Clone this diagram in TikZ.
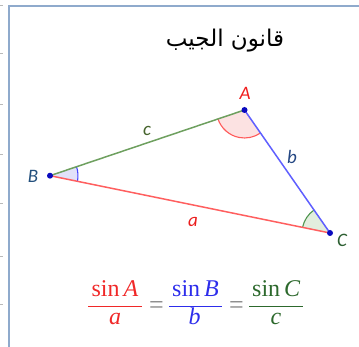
\documentclass[tikz,border=0pt]{standalone}
\usepackage{fontspec}
\setmainfont{Liberation Serif}
\newfontfamily\labfont{Carlito}
\newfontfamily\arabicfont[Script=Arabic]{DejaVu Sans}
\TeXXeTstate=1
\usetikzlibrary{angles}
\definecolor{framec}{RGB}{143,170,204}
\definecolor{sidea}{RGB}{255,95,95}
\definecolor{sideb}{RGB}{95,95,255}
\definecolor{sidec}{RGB}{110,160,95}
\definecolor{fillA}{RGB}{252,226,226}
\definecolor{fillB}{RGB}{226,226,250}
\definecolor{fillC}{RGB}{226,238,222}
\definecolor{arcA}{RGB}{255,90,90}
\definecolor{arcB}{RGB}{70,70,255}
\definecolor{arcC}{RGB}{80,150,80}
\definecolor{dotc}{RGB}{10,10,190}
\definecolor{labA}{RGB}{240,30,30}
\definecolor{labB}{RGB}{35,80,125}
\definecolor{labC}{RGB}{45,95,50}
\definecolor{laba}{RGB}{235,30,30}
\definecolor{labb}{RGB}{35,70,130}
\definecolor{labc}{RGB}{70,100,45}
\definecolor{frA}{RGB}{240,40,40}
\definecolor{frB}{RGB}{45,45,235}
\definecolor{frC}{RGB}{45,105,45}
\definecolor{eqc}{RGB}{130,130,130}
\tikzset{
  side/.style={line width=1.5pt},
  dotnode/.style={circle, fill=dotc, inner sep=0pt, minimum size=6pt},
  lbl/.style={font=\labfont\itshape\fontsize{19}{19}\selectfont, inner sep=0pt},
  frtext/.style={font=\fontsize{24}{24}\selectfont, inner sep=0pt, anchor=base},
  bar/.style={line width=1.2pt},
  eqs/.style={font=\fontsize{26}{26}\selectfont, text=eqc, inner sep=0pt, anchor=base},
  angpic/.style={angle radius=28pt, line width=1.1pt}
}
\begin{document}
\begin{tikzpicture}[x=1pt,y=-1pt]
\useasboundingbox (0,0) rectangle (359,347);
% frame
\draw[framec, line width=1.5pt] (9,347) -- (9,6) -- (359,6);
\foreach \yy in {5,53,104,154,203,256,304} \draw[gray!55, line width=0.8pt] (0,\yy) -- (2.5,\yy);
% title
\node[font=\arabicfont\fontsize{23}{23}\selectfont, inner sep=0pt] (title) at (225,41) {\beginR قانون الجيب\endR};
% vertices
\coordinate (A) at (244.5,110);
\coordinate (B) at (50,175.7);
\coordinate (C) at (330,233);
% angles
\pic[angpic, fill=fillA, draw=arcA] {angle=B--A--C};
\pic[angpic, fill=fillB, draw=arcB] {angle=C--B--A};
\pic[angpic, fill=fillC, draw=arcC] {angle=A--C--B};
% sides
\draw[side, sidec] (B) -- (A);
\draw[side, sideb] (A) -- (C);
\draw[side, sidea] (B) -- (C);
% points
\node[dotnode] (pA) at (A) {};
\node[dotnode] (pB) at (B) {};
\node[dotnode] (pC) at (C) {};
% labels
\node[lbl, text=labA] (lA) at (245,93) {A};
\node[lbl, text=labB] (lB) at (33,176) {B};
\node[lbl, text=labC] (lC) at (342,240) {C};
\node[lbl, text=laba] (la) at (193,222) {a};
\node[lbl, text=labb] (lb) at (292,157) {b};
\node[lbl, text=labc] (lc) at (147,131) {c};
% formula
\node[frtext, text=frA] (n1) at (115,297) {sin\,\textit{A}};
\draw[bar, frA] (88,306.5) -- (142,306.5);
\node[frtext, text=frA] (d1) at (115,325) {\textit{a}};
\node[eqs] (e1) at (156.5,313.5) {=};
\node[frtext, text=frB] (n2) at (195.5,297) {sin\,\textit{B}};
\draw[bar, frB] (169,306.5) -- (222,306.5);
\node[frtext, text=frB] (d2) at (194.5,325) {\textit{b}};
\node[eqs] (e2) at (236.5,313.5) {=};
\node[frtext, text=frC] (n3) at (276.3,297) {sin\,\textit{C}};
\draw[bar, frC] (249,306.5) -- (303,306.5);
\node[frtext, text=frC] (d3) at (276,325) {\textit{c}};
\end{tikzpicture}
\end{document}
